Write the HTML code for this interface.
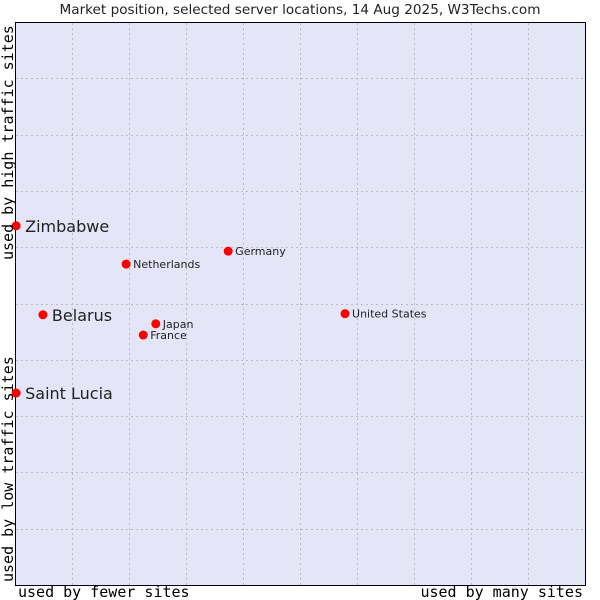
<!DOCTYPE html>
<html><head><meta charset="utf-8"><style>
body{margin:0;background:#fff}
svg{display:block}
</style></head><body>
<svg id="chart" width="600" height="600" viewBox="0 0 600 600" xmlns="http://www.w3.org/2000/svg">
<text x="300" y="14" text-anchor="middle" font-family="DejaVu Sans, sans-serif" font-size="13.6" fill="#222">Market position, selected server locations, 14 Aug 2025, W3Techs.com</text>
<rect x="15.5" y="22.5" width="570" height="563" fill="#e4e6f8" stroke="#000"/>
<g id="grid"></g>
<g id="points"></g>
<text x="18" y="597" font-family="DejaVu Sans Mono, monospace" font-size="15" fill="#000">used by fewer sites</text>
<text x="583" y="597" text-anchor="end" font-family="DejaVu Sans Mono, monospace" font-size="15" fill="#000">used by many sites</text>
<text transform="translate(13,582) rotate(-90)" font-family="DejaVu Sans Mono, monospace" font-size="15" fill="#000">used by low traffic sites</text>
<text transform="translate(13,260) rotate(-90)" font-family="DejaVu Sans Mono, monospace" font-size="15" fill="#000">used by high traffic sites</text>
</svg>
<script>
const names=["Zimbabwe","Belarus","Saint Lucia","Netherlands","Germany","Japan","France","United States"];
const xVals=[0.2,4.9,0.2,19.5,37.4,24.7,22.5,57.9];
const yVals=[63.8,48.0,34.1,57.0,59.3,46.4,44.4,48.2];
const big=[true,true,true,false,false,false,false,false];
const L=15,T=22,W=570,H=563;
const xs=v=>L+v/100*W, ys=v=>T+H-v/100*H;
const ns="http://www.w3.org/2000/svg";
const g=document.getElementById('grid');
for(let i=1;i<10;i++){
 const x=Math.round(xs(i*10))+0.5,y=Math.round(ys(i*10))+0.5;
 const a=document.createElementNS(ns,'line');
 
 
 a.setAttribute('x1',x);a.setAttribute('x2',x);a.setAttribute('y1',T+1);a.setAttribute('y2',T+H);
 a.setAttribute('stroke','#bbb');a.setAttribute('stroke-dasharray','2,3');g.appendChild(a);
 const b=document.createElementNS(ns,'line');
 
 
 b.setAttribute('y1',y);b.setAttribute('y2',y);b.setAttribute('x1',L+1);b.setAttribute('x2',L+W);
 b.setAttribute('stroke','#bbb');b.setAttribute('stroke-dasharray','2,3');g.appendChild(b);
}
const p=document.getElementById('points');
names.forEach((n,i)=>{
 const cx=xs(xVals[i]),cy=ys(yVals[i]);
 const c=document.createElementNS(ns,'circle');
 
 
 c.setAttribute('cx',cx);c.setAttribute('cy',cy);c.setAttribute('r',4.5);c.setAttribute('fill','#f00');
 p.appendChild(c);
 const t=document.createElementNS(ns,'text');
 
 
 t.setAttribute('x',cx+(big[i]?9:7));t.setAttribute('y',cy+(big[i]?6:4));
 t.setAttribute('font-family','DejaVu Sans, sans-serif');t.setAttribute('font-size',big[i]?16:11);
 t.setAttribute('fill','#222');t.textContent=n;p.appendChild(t);
});
</script>
</body></html>
